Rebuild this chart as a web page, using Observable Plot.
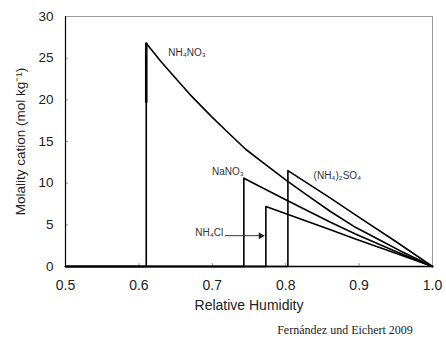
<!DOCTYPE html>
<html>
<head>
<meta charset="utf-8">
<script src="https://cdn.jsdelivr.net/npm/d3@7"></script>
<script src="https://cdn.jsdelivr.net/npm/@observablehq/plot@0.6"></script>
<style>
  html, body { margin: 0; padding: 0; background: #fff; }
  #wrap { position: relative; width: 446px; height: 347px; font-family: "Liberation Sans", Arial, sans-serif; }
  #caption { position: absolute; left: 270px; top: 323px; width: 150px; text-align: center; font-family: "Liberation Serif", "Times New Roman", serif; font-size: 12px; color: #222; white-space: nowrap; }
</style>
</head>
<body>
<div id="wrap"><div id="chart"></div><div id="caption">Fernández und Eichert 2009</div></div>
<script>
// Salts and their deliquescence relative humidity (DRH)
const salts = ["NH₄NO₃", "NaNO₃", "(NH₄)₂SO₄", "NH₄Cl"];
const drh = [0.61, 0.743, 0.803, 0.773];

// Molality curves above DRH (relative humidity, molality)
const nh4no3RH = [0.61, 0.63, 0.65, 0.67, 0.70, 0.72, 0.745, 0.77, 0.80, 0.83, 0.861, 0.895, 0.93, 0.96, 1.0];
const nh4no3M  = [26.8, 24.6, 22.6, 20.6, 17.9, 16.2, 14.1, 12.4, 10.4, 8.5, 6.6, 4.7, 3.1, 1.7, 0];
const nano3RH  = [0.743, 0.80, 0.861, 0.895, 0.95, 1.0];
const nano3M   = [10.6, 8.0, 5.3, 3.9, 1.8, 0];
const nh42so4RH = [0.803, 0.861, 0.895, 0.95, 1.0];
const nh42so4M  = [11.5, 8.2, 6.2, 3.0, 0];
const nh4clRH  = [0.773, 0.861, 0.895, 0.95, 1.0];
const nh4clM   = [7.2, 4.4, 3.3, 1.6, 0];

// Upper, heavier part of the NH4NO3 step
const nh4no3StepTop = [19.6, 26.8];

// Label positions
const labelRH = [0.640, 0.743, 0.838, 0.715];
const labelM  = [25.6, 11.4, 10.9, 4.0];
const labelAnchor = ["start", "end", "start", "end"];
const arrowFrom = [0.717, 3.7];
const arrowTo = [0.766, 3.7];

const xTicks = [0.5, 0.6, 0.7, 0.8, 0.9, 1.0];
const yTicks = [0, 5, 10, 15, 20, 25, 30];

const curveRH = [nh4no3RH, nano3RH, nh42so4RH, nh4clRH];
const curveM = [nh4no3M, nano3M, nh42so4M, nh4clM];

const rows = [];
salts.forEach((s, i) => {
  rows.push({salt: s, rh: 0.5, m: 0});
  rows.push({salt: s, rh: drh[i], m: 0});
  curveRH[i].forEach((r, j) => rows.push({salt: s, rh: r, m: curveM[i][j]}));
});
const labels = salts.map((s, i) => ({salt: s, rh: labelRH[i], m: labelM[i], anchor: labelAnchor[i]}));

const plot = Plot.plot({
  width: 446,
  height: 320,
  marginLeft: 65,
  marginRight: 14,
  marginTop: 16,
  marginBottom: 54,
  style: {fontFamily: "Liberation Sans, Arial, sans-serif", background: "#fff", color: "#222"},
  x: {domain: [0.5, 1.0]},
  y: {domain: [0, 30]},
  marks: [
    Plot.frame({stroke: "#999", strokeWidth: 1}),
    Plot.axisX({ticks: xTicks, tickFormat: d3.format(".1f"), tickSize: -3, tickPadding: 17, fontSize: 14, stroke: "#999",
      label: "Relative Humidity", labelAnchor: "center", labelArrow: "none", labelOffset: 43}),
    Plot.axisY({ticks: yTicks, tickSize: -3, tickPadding: 15, fontSize: 13.5, stroke: "#999",
      label: "Molality cation (mol kg⁻¹)", labelAnchor: "center", labelArrow: "none", labelOffset: 50}),
    Plot.ruleX([0.5], {stroke: "#000", strokeWidth: 1.2}),
    Plot.ruleY([0], {stroke: "#000", strokeWidth: 1.4}),
    Plot.line(rows, {x: "rh", y: "m", z: "salt", stroke: "#000", strokeWidth: 1.6, curve: "linear"}),
    Plot.ruleX([drh[0]], {y1: nh4no3StepTop[0], y2: nh4no3StepTop[1], stroke: "#000", strokeWidth: 2.6}),
    Plot.text(labels.filter(d => d.anchor === "start"), {x: "rh", y: "m", text: "salt", textAnchor: "start", fontSize: 10, fill: "#333"}),
    Plot.text(labels.filter(d => d.anchor === "end"), {x: "rh", y: "m", text: "salt", textAnchor: "end", fontSize: 10, fill: "#333"}),
    Plot.link([{x1: arrowFrom[0], y1: arrowFrom[1], x2: arrowTo[0], y2: arrowTo[1]}], {x1: "x1", y1: "y1", x2: "x2", y2: "y2", stroke: "#333", strokeWidth: 1}),
    Plot.dot([{x: arrowTo[0], y: arrowTo[1]}], {x: "x", y: "y", symbol: "triangle", r: 2.6, rotate: 90, fill: "#222", stroke: "none"})
  ]
});
document.getElementById("chart").appendChild(plot);
</script>
</body>
</html>
